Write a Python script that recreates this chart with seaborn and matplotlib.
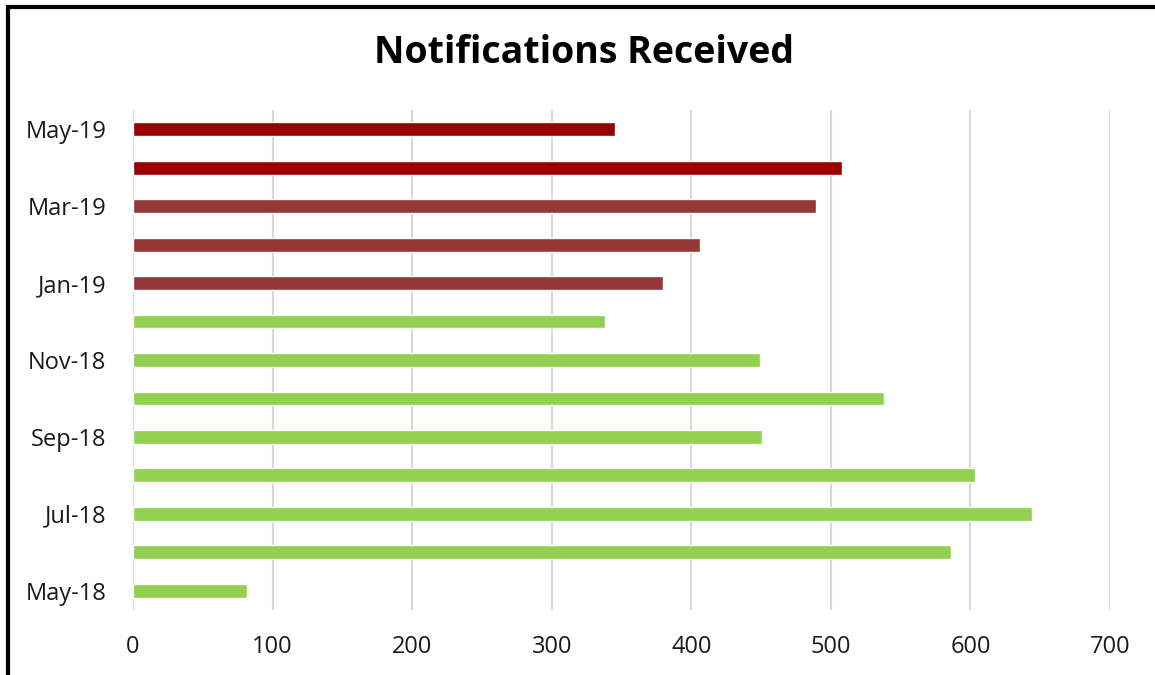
import matplotlib
matplotlib.use("Agg")
import matplotlib.pyplot as plt
import seaborn as sns
import pandas as pd
from matplotlib.patches import Rectangle

months = ["May-18", "Jun-18", "Jul-18", "Aug-18", "Sep-18", "Oct-18", "Nov-18",
          "Dec-18", "Jan-19", "Feb-19", "Mar-19", "Apr-19", "May-19"]
notifications = [82, 586, 644, 603, 451, 538, 449, 338, 380, 406, 489, 508, 345]
bar_colors = ["#92D050"] * 8 + ["#953735"] * 3 + ["#990000"] * 2
title = "Notifications Received"
x_ticks = [0, 100, 200, 300, 400, 500, 600, 700]

sns.set_theme(style="white")
plt.rcParams["font.family"] = ["Open Sans", "DejaVu Sans"]

df = pd.DataFrame({"month": months, "value": notifications, "color": bar_colors})
df = df.iloc[::-1].reset_index(drop=True)  # latest month on top

fig = plt.figure(figsize=(11.55, 6.75), dpi=100)
ax = fig.add_axes([133 / 1155, 1 - 610 / 675, (1110 - 133) / 1155, 500 / 675])

sns.barplot(data=df, x="value", y="month", hue="month", order=list(df["month"]),
            palette=dict(zip(df["month"], df["color"])), legend=False,
            width=0.36, saturation=1, ax=ax, orient="h")

ax.set_xlim(0, 700)
ax.set_ylim(len(months) - 0.5, -0.5)
ax.set_xticks(x_ticks)
ax.set_xticklabels([str(t) for t in x_ticks], fontsize=17, color="#1a1a1a")
ax.set_yticks(range(len(df)))
ax.set_yticklabels([m if i % 2 == 0 else "" for i, m in enumerate(df["month"])],
                   fontsize=17, color="#1a1a1a")
ax.tick_params(axis="both", length=0)
ax.tick_params(axis="x", pad=18)
ax.tick_params(axis="y", pad=19)
ax.set_xlabel("")
ax.set_ylabel("")
for s in ax.spines.values():
    s.set_visible(False)
ax.xaxis.grid(True, color="#D9D9D9", linewidth=1.5)
ax.set_axisbelow(True)

fig.text(584 / 1155, 1 - 53 / 675, title, ha="center", va="center",
         fontsize=27, fontweight="bold", color="black")

fig.patches.append(Rectangle((8 / 1155, -0.1), 1.2, 1 - 6.5 / 675 + 0.1,
                             transform=fig.transFigure, fill=False,
                             edgecolor="black", linewidth=3, zorder=10))

fig.savefig("out.png", dpi=100)
